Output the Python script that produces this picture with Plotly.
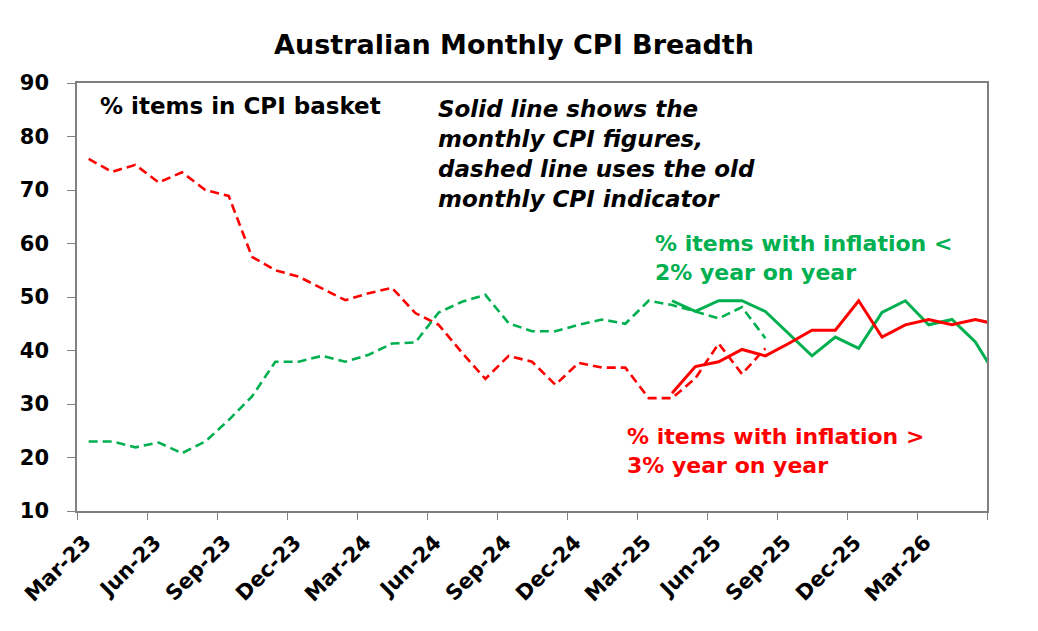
import plotly.graph_objects as go

months = ["Mar-23","Apr-23","May-23","Jun-23","Jul-23","Aug-23","Sep-23","Oct-23","Nov-23","Dec-23",
          "Jan-24","Feb-24","Mar-24","Apr-24","May-24","Jun-24","Jul-24","Aug-24","Sep-24","Oct-24",
          "Nov-24","Dec-24","Jan-25","Feb-25","Mar-25","Apr-25","May-25","Jun-25","Jul-25","Aug-25",
          "Sep-25","Oct-25","Nov-25","Dec-25","Jan-26","Feb-26","Mar-26","Apr-26","May-26","Jun-26"]

# Old monthly CPI indicator (dashed), Mar-23 .. Aug-25
above3_old = [75.8, 73.4, 74.7, 71.4, 73.3, 70.0, 68.9, 57.5, 55.0, 53.8,
              51.6, 49.4, 50.7, 51.7, 47.0, 44.8, 39.6, 34.7, 39.0, 37.9,
              33.6, 37.7, 36.8, 36.8, 31.1, 31.1, 34.8, 41.3, 35.6, 40.4]
below2_old = [23.0, 23.0, 21.9, 22.8, 20.8, 23.0, 27.0, 31.4, 37.9, 37.9,
              39.0, 37.9, 39.2, 41.3, 41.5, 47.1, 49.1, 50.4, 45.1, 43.6,
              43.6, 44.8, 45.8, 45.0, 49.3, 48.5, 47.3, 46.0, 48.1, 42.3]
# New monthly CPI (solid), Apr-25 .. Jun-26
new_start = 25
above3_new = [32.0, 37.0, 37.9, 40.2, 39.0, 41.3, 43.8, 43.8, 49.3, 42.5,
              44.8, 45.8, 44.8, 45.8, 44.8]
below2_new = [49.3, 47.3, 49.3, 49.3, 47.3, 43.1, 39.0, 42.5, 40.4, 47.1,
              49.3, 44.8, 45.8, 41.6, 34.5]

tick_idx = list(range(0, 40, 3))
tick_text = [months[i] if i < 39 else "" for i in tick_idx]

RED = "#FF0000"
GREEN = "#00B050"
FONT = "DejaVu Sans"

x_old = [i + 0.5 for i in range(len(above3_old))]
x_new = [new_start + i + 0.5 for i in range(len(above3_new))]

fig = go.Figure()
fig.add_trace(go.Scatter(x=x_old, y=above3_old, mode="lines",
                         line=dict(color=RED, width=2.6, dash="9px,5px"),
                         customdata=months[:len(above3_old)]))
fig.add_trace(go.Scatter(x=x_old, y=below2_old, mode="lines",
                         line=dict(color=GREEN, width=2.6, dash="9px,5px"),
                         customdata=months[:len(below2_old)]))
fig.add_trace(go.Scatter(x=x_new, y=below2_new, mode="lines",
                         line=dict(color=GREEN, width=3)))
fig.add_trace(go.Scatter(x=x_new, y=above3_new, mode="lines",
                         line=dict(color=RED, width=3)))

L, R, T, B = 77, 51, 83, 120
W, H = 1038, 631
PW, PH = W - L - R, H - T - B

def px(p):
    return (p - L) / PW

def py(p):
    return (H - B - p) / PH

annos = [
    dict(text="% items in CPI basket", x=px(98), y=py(106), xanchor="left", yanchor="middle",
         font=dict(family=FONT, size=23, color="black", weight="bold")),
    dict(text="Solid line shows the<br>monthly CPI figures,<br>dashed line uses the old<br>monthly CPI indicator",
         x=px(436), y=py(154), xanchor="left", yanchor="middle", align="left",
         font=dict(family=FONT, size=23, color="black", weight="bold", style="italic")),
    dict(text="% items with inflation &lt;<br>2% year on year", x=px(653), y=py(258),
         xanchor="left", yanchor="middle", align="left",
         font=dict(family=FONT, size=22, color=GREEN, weight="bold")),
    dict(text="% items with inflation &gt;<br>3% year on year", x=px(625), y=py(451),
         xanchor="left", yanchor="middle", align="left",
         font=dict(family=FONT, size=22, color=RED, weight="bold")),
]
for a in annos:
    a.update(xref="paper", yref="paper", showarrow=False)

fig.update_layout(
    width=W, height=H,
    margin=dict(l=L, r=R, t=T, b=B),
    paper_bgcolor="white", plot_bgcolor="white",
    showlegend=False,
    title=dict(text="Australian Monthly CPI Breadth", x=514 / W, xref="container", xanchor="center",
               y=1 - 45 / H, yref="container", yanchor="middle",
               font=dict(family=FONT, size=27, color="black", weight="bold")),
    annotations=annos,
)
fig.update_xaxes(range=[0, 39], tickmode="array", tickvals=tick_idx, ticktext=tick_text,
                 tickangle=-45, ticks="outside", ticklen=7, tickcolor="#808080",
                 showline=True, linecolor="#808080", linewidth=1.5, mirror=True,
                 showgrid=False, zeroline=False, ticklabelshift=8, ticklabelstandoff=2,
                 tickfont=dict(family=FONT, size=21, color="black", weight="bold"))
fig.update_yaxes(range=[10, 90], tickmode="array", tickvals=list(range(10, 91, 10)),
                 ticks="outside", ticklen=8, tickcolor="#808080",
                 showline=True, linecolor="#808080", linewidth=1.5, mirror=True,
                 showgrid=False, zeroline=False, ticklabelstandoff=14,
                 tickfont=dict(family=FONT, size=21, color="black", weight="bold"))

fig.write_html("out.html")
